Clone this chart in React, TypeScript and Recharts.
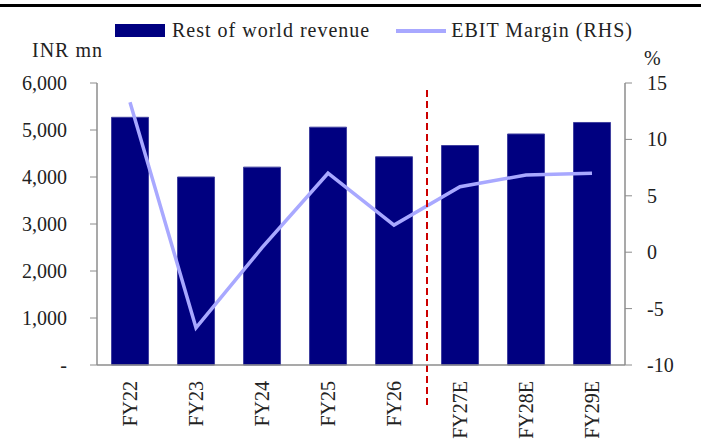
import React from 'react';
import {
  ComposedChart,
  Bar,
  Line,
  XAxis,
  YAxis,
  ReferenceLine,
} from 'recharts';

const years = ['FY22', 'FY23', 'FY24', 'FY25', 'FY26', 'FY27E', 'FY28E', 'FY29E'];
const revenue = [5270, 4000, 4210, 5060, 4430, 4670, 4915, 5160];
const ebitMargin = [13.3, -6.7, 0.4, 7.0, 2.4, 5.8, 6.85, 7.0];
const leftTicks = [0, 1000, 2000, 3000, 4000, 5000, 6000];
const rightTicks = [-10, -5, 0, 5, 10, 15];

const data = years.map((year, i) => ({
  year,
  revenue: revenue[i],
  margin: ebitMargin[i],
}));

const FONT = '"Liberation Serif", serif';
const NAVY = '#000080';
const LAVENDER = '#a8a8ff';
const AXIS = '#8c8c8c';
const TEXT = '#222';

const fmtLeft = (v: number) => (v === 0 ? '-' : v.toLocaleString('en-US'));

const XTick = (props: any) => {
  const { x, y, payload } = props;
  const ty = y + 8;
  return (
    <text
      x={x}
      y={ty}
      transform={`rotate(-90, ${x}, ${ty})`}
      textAnchor="end"
      dominantBaseline="central"
      fontFamily={FONT}
      fontSize={20}
      fill={TEXT}
    >
      {payload.value}
    </text>
  );
};

const LeftTick = (props: any) => {
  const { x, y, payload } = props;
  return (
    <text x={x} y={y} dy="0.35em" textAnchor="end" fontFamily={FONT} fontSize={20} fill={TEXT}>
      {fmtLeft(payload.value)}
    </text>
  );
};

const RightTick = (props: any) => {
  const { x, y, payload } = props;
  return (
    <text x={x} y={y} dy="0.35em" textAnchor="start" fontFamily={FONT} fontSize={20} fill={TEXT}>
      {payload.value}
    </text>
  );
};

// dashed divider between actuals and estimates
const Divider = (p: any) => (
  <line
    x1={p.x1}
    x2={p.x2}
    y1={Math.min(p.y1, p.y2)}
    y2={Math.max(p.y1, p.y2)}
    stroke="#cc0000"
    strokeWidth={2}
    strokeDasharray="7 4"
    clipPath="none"
  />
);

const App: React.FC = () => {
  return (
    <div style={{ position: 'absolute', left: 0, top: 0, width: 701, height: 443, background: '#fff', overflow: 'hidden' }}>
      <div style={{ position: 'absolute', left: 0, top: 4, width: 701, height: 3, background: '#000' }} />
      <div
        style={{
          position: 'absolute',
          top: 19,
          left: 115,
          display: 'flex',
          alignItems: 'center',
          fontFamily: FONT,
          fontSize: 20,
          letterSpacing: 1,
          color: TEXT,
          whiteSpace: 'nowrap',
        }}
      >
        <span style={{ display: 'inline-block', width: 50, height: 13, background: NAVY, marginRight: 7 }} />
        <span>Rest of world revenue</span>
        <span style={{ display: 'inline-block', width: 50, height: 4, background: LAVENDER, marginLeft: 26, marginRight: 5 }} />
        <span>EBIT Margin (RHS)</span>
      </div>
      <div style={{ position: 'absolute', top: 39, left: 32, fontFamily: FONT, fontSize: 20, letterSpacing: 1, color: TEXT }}>
        INR mn
      </div>
      <div style={{ position: 'absolute', top: 49, left: 644, fontFamily: FONT, fontSize: 20, lineHeight: '18px', color: TEXT }}>
        %
      </div>
      <div style={{ position: 'absolute', left: 0, top: 0 }}>
        <ComposedChart
          width={701}
          height={443}
          data={data}
          margin={{ top: 83, right: 0, bottom: 0, left: 0 }}
          barCategoryGap="22%"
        >
          <XAxis
            dataKey="year"
            height={78}
            tick={<XTick />}
            tickLine={false}
            axisLine={{ stroke: AXIS, strokeWidth: 1.5 }}
            interval={0}
          />
          <YAxis
            yAxisId="left"
            width={97}
            domain={[0, 6000]}
            ticks={leftTicks}
            tickSize={7}
            tickMargin={23}
            tickLine={{ stroke: AXIS }}
            axisLine={{ stroke: AXIS, strokeWidth: 1.5 }}
            tick={<LeftTick />}
            interval={0}
          />
          <YAxis
            yAxisId="right"
            orientation="right"
            width={76}
            domain={[-10, 15]}
            ticks={rightTicks}
            tickSize={7}
            tickMargin={15}
            tickLine={{ stroke: AXIS }}
            axisLine={{ stroke: AXIS, strokeWidth: 1.5 }}
            tick={<RightTick />}
            interval={0}
          />
          <Bar
            yAxisId="left"
            dataKey="revenue"
            fill={NAVY}
            stroke="#4040a0"
            strokeWidth={1}
            isAnimationActive={false}
          />
          <Line
            yAxisId="right"
            dataKey="margin"
            stroke={LAVENDER}
            strokeWidth={3.5}
            dot={false}
            activeDot={false}
            isAnimationActive={false}
          />
          <ReferenceLine
            yAxisId="left"
            segment={[
              { x: 'FY26', y: 5850 },
              { x: 'FY26', y: -850 },
            ]}
            position="end"
            ifOverflow="visible"
            shape={Divider}
          />
        </ComposedChart>
      </div>
    </div>
  );
};

export default App;
